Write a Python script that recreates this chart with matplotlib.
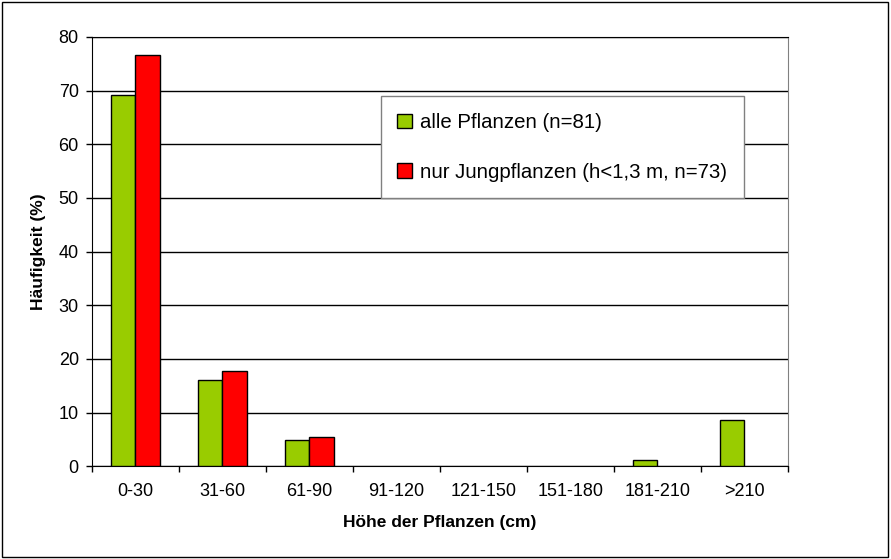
import numpy as np
import matplotlib
matplotlib.use("Agg")
import matplotlib.pyplot as plt
from matplotlib.patches import Rectangle

plt.rcParams['font.family'] = ['Liberation Sans', 'DejaVu Sans']

categories = ["0-30", "31-60", "61-90", "91-120", "121-150", "151-180", "181-210", ">210"]
alle = [69.1, 16.0, 4.9, 0, 0, 0, 1.2, 8.6]
jung = [76.7, 17.8, 5.5, 0, 0, 0, 0, 0]
labels = ["alle Pflanzen (n=81)", "nur Jungpflanzen (h<1,3 m, n=73)"]

fig = plt.figure(figsize=(8.91, 5.59), dpi=100)
ax = fig.add_axes([0.103, 0.166, 0.781, 0.768])

x = np.arange(len(categories))
w = 0.28
for i in range(len(categories)):
    if alle[i] > 0:
        ax.bar(x[i] - w/2, alle[i], w, color="#99cc00", edgecolor="black", linewidth=1, zorder=3)
    if jung[i] > 0:
        ax.bar(x[i] + w/2, jung[i], w, color="#ff0000", edgecolor="black", linewidth=1, zorder=3)

ax.set_xlim(-0.5, len(categories) - 0.5)
ax.set_ylim(0, 80)
ax.set_yticks(np.arange(0, 81, 10))
ax.set_xticks(x)
ax.set_xticklabels(categories, fontsize=13)
ax.set_xticks(np.arange(-0.5, len(categories)), minor=True)
ax.tick_params(axis="x", which="major", length=0, pad=12)
ax.tick_params(axis="x", which="minor", length=4.3, width=1, direction="out")
ax.tick_params(axis="y", length=4.3, width=1, direction="out", labelsize=13, pad=5)
ax.yaxis.grid(True, color="black", linewidth=1, zorder=0)
ax.set_axisbelow(True)
ax.spines["right"].set_color("#808080")
for s in ["left", "bottom", "top"]:
    ax.spines[s].set_color("black")

ax.set_xlabel("Höhe der Pflanzen (cm)", fontsize=12.5, fontweight="bold", labelpad=11)
ax.set_ylabel("Häufigkeit (%)", fontsize=12.5, fontweight="bold", labelpad=9)

handles = [Rectangle((0, 0), 1, 1, facecolor="#99cc00", edgecolor="black"),
           Rectangle((0, 0), 1, 1, facecolor="#ff0000", edgecolor="black")]
leg = ax.legend(handles, labels, loc="upper left", bbox_to_anchor=(0.415, 0.862),
                fontsize=14.7, frameon=True, fancybox=False, edgecolor="#808080",
                handlelength=0.7, handleheight=0.7, handletextpad=0.4,
                labelspacing=1.5, borderpad=0.82, borderaxespad=0, framealpha=1)
leg.get_frame().set_linewidth(1)

fig.patches.append(Rectangle((0.002, 0.003), 0.995, 0.994, transform=fig.transFigure,
                             fill=False, edgecolor="black", linewidth=1))

fig.savefig("out.png", dpi=100)
